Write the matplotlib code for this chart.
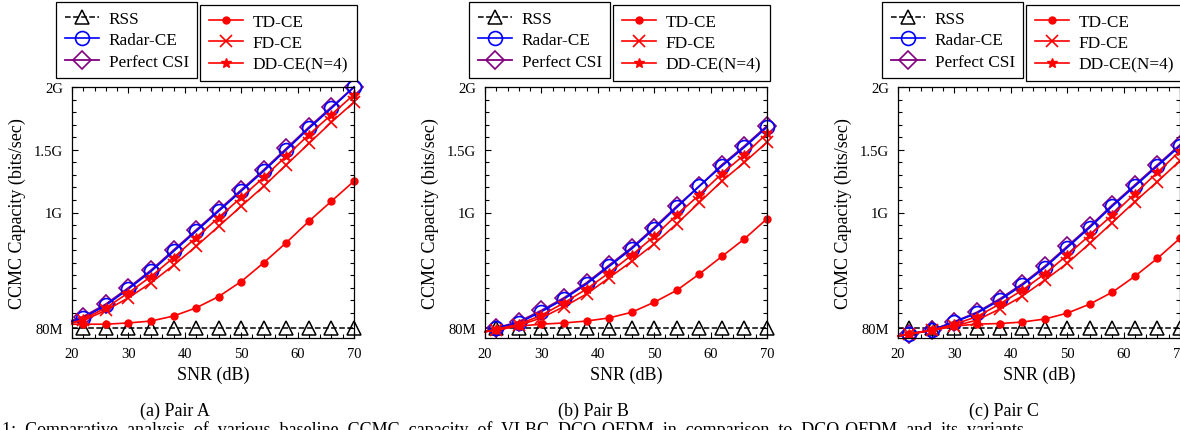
import matplotlib
matplotlib.use('Agg')
import matplotlib.pyplot as plt
from matplotlib.ticker import FixedLocator, FixedFormatter

plt.rcParams['font.family'] = ['Liberation Serif', 'DejaVu Serif']

# SNR (dB); markers are drawn from 22 dB on
snr = [20, 22, 26, 30, 34, 38, 42, 46, 50, 54, 58, 62, 66, 70]

# CCMC capacity in Gbit/s
rss = [0.08, 0.08, 0.08, 0.08, 0.08, 0.08, 0.08, 0.08, 0.08, 0.08, 0.08, 0.08, 0.08, 0.08]

radar_a = [0.13, 0.16, 0.26, 0.39, 0.53, 0.69, 0.85, 1.01, 1.17, 1.33, 1.50, 1.67, 1.83, 2.00]
perfect_a = [0.14, 0.17, 0.27, 0.40, 0.54, 0.70, 0.86, 1.02, 1.18, 1.34, 1.51, 1.68, 1.84, 2.00]
td_a = [0.11, 0.11, 0.11, 0.12, 0.135, 0.175, 0.24, 0.33, 0.45, 0.60, 0.76, 0.93, 1.09, 1.25]
fd_a = [0.12, 0.14, 0.22, 0.32, 0.44, 0.58, 0.73, 0.89, 1.05, 1.21, 1.38, 1.55, 1.72, 1.88]
dd_a = [0.12, 0.15, 0.24, 0.36, 0.49, 0.64, 0.80, 0.96, 1.12, 1.28, 1.45, 1.62, 1.78, 1.94]

radar_b = [0.05, 0.08, 0.12, 0.21, 0.31, 0.43, 0.57, 0.71, 0.87, 1.04, 1.21, 1.37, 1.52, 1.68]
perfect_b = [0.05, 0.08, 0.13, 0.22, 0.32, 0.44, 0.58, 0.72, 0.88, 1.05, 1.21, 1.38, 1.53, 1.69]
td_b = [0.05, 0.065, 0.095, 0.11, 0.12, 0.135, 0.16, 0.205, 0.285, 0.38, 0.51, 0.65, 0.79, 0.95]
fd_b = [0.05, 0.06, 0.10, 0.16, 0.25, 0.35, 0.48, 0.61, 0.75, 0.91, 1.08, 1.25, 1.40, 1.56]
dd_b = [0.05, 0.07, 0.11, 0.18, 0.28, 0.39, 0.52, 0.66, 0.81, 0.98, 1.14, 1.31, 1.46, 1.63]

radar_c = [0.015, 0.032, 0.063, 0.127, 0.198, 0.30, 0.42, 0.56, 0.72, 0.88, 1.05, 1.21, 1.37, 1.53]
perfect_c = [0.015, 0.032, 0.063, 0.13, 0.205, 0.31, 0.43, 0.57, 0.73, 0.89, 1.06, 1.22, 1.38, 1.54]
td_c = [0.015, 0.032, 0.063, 0.095, 0.111, 0.115, 0.127, 0.151, 0.198, 0.27, 0.365, 0.492, 0.635, 0.794]
fd_c = [0.015, 0.03, 0.06, 0.095, 0.143, 0.23, 0.333, 0.46, 0.595, 0.754, 0.92, 1.087, 1.246, 1.413]
dd_c = [0.015, 0.032, 0.063, 0.11, 0.17, 0.27, 0.38, 0.51, 0.66, 0.82, 0.98, 1.15, 1.32, 1.49]

panels = [
    ('(a) Pair A', radar_a, perfect_a, td_a, fd_a, dd_a),
    ('(b) Pair B', radar_b, perfect_b, td_b, fd_b, dd_b),
    ('(c) Pair C', radar_c, perfect_c, td_c, fd_c, dd_c),
]

ytick_vals = [0.08, 1.0, 1.5, 2.0]
ytick_labels = ['80M', '1G', '1.5G', '2G']
yminor = [0.2, 0.3, 0.4, 0.5, 0.6, 0.7, 0.8, 0.9, 1.1, 1.2, 1.3, 1.4, 1.6, 1.7, 1.8, 1.9]

W, H = 1180, 431
fig = plt.figure(figsize=(W / 100, H / 100), dpi=100)

ax_left = [72, 485, 898]
cap_x = [175, 593, 1004]
ax_w, ax_top, ax_bot = 282, 88, 339

purple = '#800080'
me = slice(1, None)

for i, (cap, radar, perfect, td, fd, dd) in enumerate(panels):
    l = ax_left[i]
    ax = fig.add_axes([l / W, (H - ax_bot) / H, ax_w / W, (ax_bot - ax_top) / H])

    h1, = ax.plot(snr, rss, '--', color='black', lw=1.1, marker='^', ms=10,
                  mfc='none', mew=1.1, markevery=me, clip_on=False, label='RSS')
    h3, = ax.plot(snr, perfect, '-', color=purple, lw=1.3, marker='D', ms=9,
                  mfc='none', mew=1.2, markevery=me, clip_on=False, label='Perfect CSI')
    h2, = ax.plot(snr, radar, '-', color='blue', lw=1.2, marker='o', ms=10,
                  mfc='none', mew=1.2, markevery=me, clip_on=False, label='Radar-CE')
    h4, = ax.plot(snr, td, '-', color='red', lw=1.2, marker='o', ms=5,
                  markevery=me, clip_on=False, label='TD-CE')
    h5, = ax.plot(snr, fd, '-', color='red', lw=1.2, marker='x', ms=9,
                  mew=1.2, markevery=me, clip_on=False, label='FD-CE')
    h6, = ax.plot(snr, dd, '-', color='red', lw=1.2, marker='*', ms=7,
                  markevery=me, clip_on=False, label='DD-CE(N=4)')

    ax.set_xlim(20, 70)
    ax.set_ylim(0, 2.0)
    ax.set_xticks([20, 30, 40, 50, 60, 70])
    ax.xaxis.set_minor_locator(FixedLocator(list(range(20, 71, 2))))
    ax.yaxis.set_major_locator(FixedLocator(ytick_vals))
    ax.yaxis.set_major_formatter(FixedFormatter(ytick_labels))
    ax.yaxis.set_minor_locator(FixedLocator(yminor))
    ax.tick_params(which='both', direction='in', top=True, right=True,
                   labelsize=10.5, pad=6.5, width=0.8)
    ax.tick_params(which='major', length=4)
    ax.tick_params(which='minor', length=3)
    for s in ax.spines.values():
        s.set_linewidth(0.9)

    ax.set_xlabel('SNR (dB)', fontsize=13)
    ax.xaxis.set_label_coords(0.5, -0.11)
    ax.set_ylabel('CCMC Capacity (bits/sec)', fontsize=13)
    ax.yaxis.set_label_coords(-46 / ax_w, 0.5)

    leg_kw = dict(loc='upper left', fontsize=12.4, frameon=True, fancybox=False,
                  framealpha=1, edgecolor='black', borderaxespad=0,
                  handlelength=2.0, handletextpad=0.55, labelspacing=0.32,
                  borderpad=0.5, numpoints=1, bbox_transform=fig.transFigure)
    leg1 = ax.legend([h1, h2, h3], ['RSS', 'Radar-CE', 'Perfect CSI'],
                     bbox_to_anchor=((l - 16) / W, 1 - 3 / H), **leg_kw)
    leg1.get_frame().set_linewidth(0.9)
    ax.add_artist(leg1)
    leg2 = ax.legend([h4, h5, h6], ['TD-CE', 'FD-CE', 'DD-CE(N=4)'],
                     bbox_to_anchor=((l + 128) / W, 1 - 6 / H), **leg_kw)
    leg2.get_frame().set_linewidth(0.9)

    fig.text(cap_x[i] / W, 1 - 411 / H, cap, ha='center', va='center', fontsize=13)

fig.text(2 / W, 1 - 421 / H,
         '1:  Comparative  analysis  of  various  baseline  CCMC  capacity  of  VLBC  '
         'DCO-OFDM  in  comparison  to  DCO-OFDM  and  its  variants',
         ha='left', va='top', fontsize=13)

fig.savefig('out.png', dpi=100)
